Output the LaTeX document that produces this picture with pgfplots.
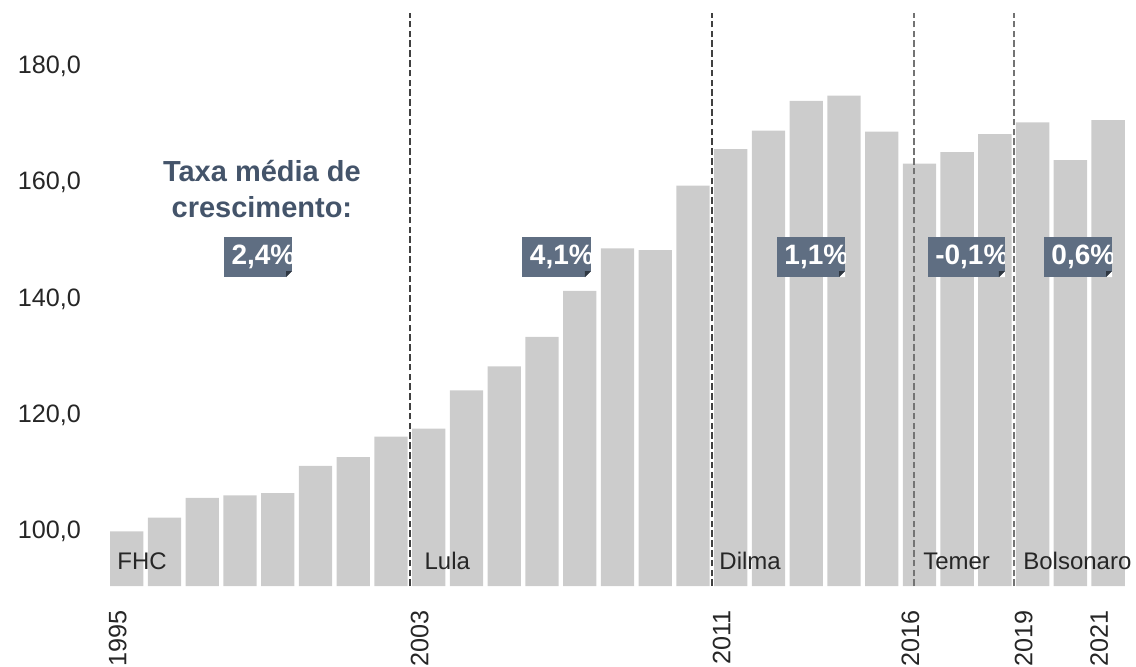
\documentclass[border=0pt]{standalone}
\usepackage{fontspec}
\setmainfont{Liberation Sans}
\usepackage{pgfplots}
\pgfplotsset{compat=1.18}
\definecolor{barcol}{HTML}{CCCCCC}
\definecolor{boxcol}{HTML}{5F6E82}
\definecolor{titlecol}{HTML}{44546A}
\definecolor{labcol}{HTML}{262626}

\newcommand{\ratebox}[3]{%
 \node[fill=boxcol, inner sep=0pt, minimum width=#2, minimum height=20pt, path picture={
   \node[anchor=west, inner sep=0pt, text=white, font=\fontsize{14}{16}\selectfont\bfseries] at ([xshift=2.5pt]path picture bounding box.west) {#3};
   \fill[white] ([xshift=-3pt]path picture bounding box.south east) -- (path picture bounding box.south east) -- ([yshift=3pt]path picture bounding box.south east) -- cycle;
   \fill[boxcol!50!black] ([xshift=-3pt]path picture bounding box.south east) -- ([yshift=3pt]path picture bounding box.south east) -- ([xshift=-3pt,yshift=3pt]path picture bounding box.south east) -- cycle;
 }] at (axis cs:#1,147.23) {};}

\begin{document}
\begin{tikzpicture}
\useasboundingbox (0,0) rectangle (568pt,333.5pt);
\begin{axis}[
  at={(53.94pt,40.45pt)}, anchor=south west,
  scale only axis, width=511.5pt, height=288.8pt,
  xmin=-0.5, xmax=26.6, ymin=90.6, ymax=190,
  clip mode=individual,
  axis line style={draw=none},
  major tick length=0pt,
  ytick={100,120,140,160,180},
  /pgf/number format/use comma,
  /pgf/number format/fixed,
  /pgf/number format/fixed zerofill,
  /pgf/number format/precision=1,
  /pgf/number format/assume math mode=true,
  yticklabel style={font=\fontsize{12.6}{14}\selectfont, text=labcol, anchor=east, xshift=-10pt},
  xtick={0,8,16,21,24,26},
  xticklabels={1995,2003,2011,2016,2019,2021},
  xticklabel style={font=\fontsize{12.6}{14}\selectfont, text=labcol, xshift=-4.5pt, yshift=-8.5pt, rotate=90, anchor=east},
]
\addplot[ybar, bar width=0.887, fill=barcol, draw=none] coordinates {
(0,100.0) (1,102.4) (2,105.8) (3,106.2) (4,106.6) (5,111.3) (6,112.8) (7,116.3)
(8,117.7) (9,124.3) (10,128.4) (11,133.5) (12,141.4) (13,148.7) (14,148.4) (15,159.5)
(16,165.8) (17,169.0) (18,174.1) (19,175.0) (20,168.8) (21,163.3) (22,165.3) (23,168.4)
(24,170.4) (25,163.9) (26,170.8)
};
\addplot[draw=black!75, line width=0.95pt, dash pattern=on 3.3pt off 1.6pt] coordinates {(7.5,90.6) (7.5,189.3)};
\addplot[draw=black!75, line width=0.95pt, dash pattern=on 3.3pt off 1.6pt] coordinates {(15.5,90.6) (15.5,189.3)};
\addplot[draw=black!55, line width=0.95pt, dash pattern=on 3.3pt off 1.6pt] coordinates {(20.85,90.6) (20.85,189.3)};
\addplot[draw=black!55, line width=0.95pt, dash pattern=on 3.3pt off 1.6pt] coordinates {(23.5,90.6) (23.5,189.3)};

\node[anchor=base west, inner sep=0pt, font=\fontsize{12}{14}\selectfont, text=labcol] at (axis cs:-0.26,93.4) {FHC};
\node[anchor=base west, inner sep=0pt, font=\fontsize{12}{14}\selectfont, text=labcol] at (axis cs:7.88,93.4) {Lula};
\node[anchor=base west, inner sep=0pt, font=\fontsize{12}{14}\selectfont, text=labcol] at (axis cs:15.69,93.4) {Dilma};
\node[anchor=base west, inner sep=0pt, font=\fontsize{12}{14}\selectfont, text=labcol] at (axis cs:21.09,93.4) {Temer};
\node[anchor=base west, inner sep=0pt, font=\fontsize{12}{14}\selectfont, text=labcol] at (axis cs:23.74,93.4) {Bolsonaro};

\node[anchor=base, inner sep=0pt, font=\fontsize{14.5}{17}\selectfont\bfseries, text=titlecol] at (axis cs:3.58,160.18) {Taxa média de};
\node[anchor=base, inner sep=0pt, font=\fontsize{14.5}{17}\selectfont\bfseries, text=titlecol] at (axis cs:3.58,154.1) {crescimento:};

\ratebox{3.477}{34pt}{2,4\%}
\ratebox{11.384}{34.5pt}{4,1\%}
\ratebox{18.126}{34pt}{1,1\%}
\ratebox{22.245}{38.5pt}{-0,1\%}
\ratebox{25.199}{34pt}{0,6\%}
\end{axis}
\end{tikzpicture}
\end{document}
